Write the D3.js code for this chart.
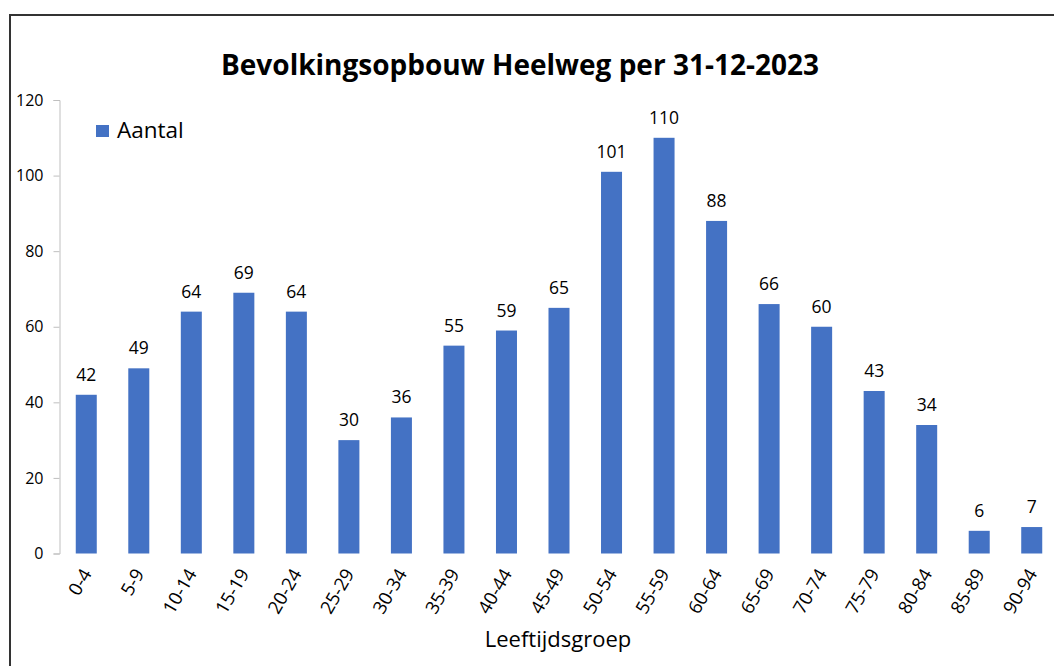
<!DOCTYPE html>
<html>
<head>
<meta charset="utf-8">
<script src="https://cdn.jsdelivr.net/npm/d3@7"></script>
<style>
  body { margin: 0; background: #fff; }
  svg { display: block; font-family: "Open Sans", sans-serif; }
</style>
</head>
<body>
<div id="chart"></div>
<script>
// Chart data
var groups = ["0-4", "5-9", "10-14", "15-19", "20-24", "25-29", "30-34", "35-39", "40-44",
    "45-49", "50-54", "55-59", "60-64", "65-69", "70-74", "75-79", "80-84", "85-89", "90-94"];
var aantal = [42, 49, 64, 69, 64, 30, 36, 55, 59, 65, 101, 110, 88, 66, 60, 43, 34, 6, 7];
var yTicks = [0, 20, 40, 60, 80, 100, 120];
var title = "Bevolkingsopbouw Heelweg per 31-12-2023";
var seriesName = "Aantal";
var xTitle = "Leeftijdsgroep";

var w = 1054;
var h = 666;
var barColor = "#4472C4";

var svg = d3.select("#chart")
    .append("svg")
    .attr("width", w)
    .attr("height", h);

// frame of the chart area (cut off at the right and bottom)
svg.append("path")
    .attr("d", "M10," + h + " V15 H" + w)
    .attr("fill", "none")
    .attr("stroke", "#333")
    .attr("stroke-width", 2);

var x = d3.scaleBand()
    .domain(groups)
    .range([60, 1058])
    .paddingInner(0.6)
    .paddingOuter(0.3);

var y = d3.scaleLinear()
    .domain([0, 120])
    .range([553.5, 100]);

// y axis
var yAxis = svg.append("g")
    .attr("transform", "translate(59.5,0)")
    .call(d3.axisLeft(y).tickValues(yTicks).tickSize(6).tickPadding(10));
yAxis.select(".domain").attr("stroke", "#bfbfbf");
yAxis.selectAll(".tick line").attr("stroke", "#bfbfbf");
yAxis.selectAll(".tick text")
    .attr("fill", "#000")
    .style("font-size", "16px")
    .style("font-family", "Open Sans, sans-serif");

// bars
svg.selectAll("rect.bar")
    .data(aantal)
    .enter()
    .append("rect")
    .attr("class", "bar")
    .attr("x", function (d, i) { return x(groups[i]); })
    .attr("y", function (d) { return y(d); })
    .attr("width", x.bandwidth())
    .attr("height", function (d) { return y(0) - y(d); })
    .attr("fill", barColor);

// value labels
svg.selectAll("text.val")
    .data(aantal)
    .enter()
    .append("text")
    .attr("class", "val")
    .attr("x", function (d, i) { return x(groups[i]) + x.bandwidth() / 2; })
    .attr("y", function (d) { return y(d) - 14; })
    .attr("text-anchor", "middle")
    .style("font-size", "17.5px")
    .text(function (d) { return d; });

// x axis labels (rotated)
var xAxis = svg.append("g")
    .attr("transform", "translate(0," + y(0) + ")")
    .call(d3.axisBottom(x).tickSize(0).tickPadding(0));
xAxis.select(".domain").remove();
xAxis.selectAll(".tick text")
    .attr("fill", "#000")
    .style("font-size", "18.5px")
    .style("font-family", "Open Sans, sans-serif")
    .attr("text-anchor", "end")
    .attr("dy", null)
    .attr("transform", "translate(6,20) rotate(-60)");

// title
svg.append("text")
    .attr("x", 520)
    .attr("y", 75)
    .attr("text-anchor", "middle")
    .style("font-size", "28px")
    .style("font-weight", "bold")
    .text(title);

// legend
svg.append("rect")
    .attr("x", 96)
    .attr("y", 125)
    .attr("width", 13)
    .attr("height", 12)
    .attr("fill", barColor);
svg.append("text")
    .attr("x", 117)
    .attr("y", 138)
    .style("font-size", "22.5px")
    .text(seriesName);

// x axis title
svg.append("text")
    .attr("x", 558)
    .attr("y", 647)
    .attr("text-anchor", "middle")
    .style("font-size", "22px")
    .text(xTitle);
</script>
</body>
</html>
